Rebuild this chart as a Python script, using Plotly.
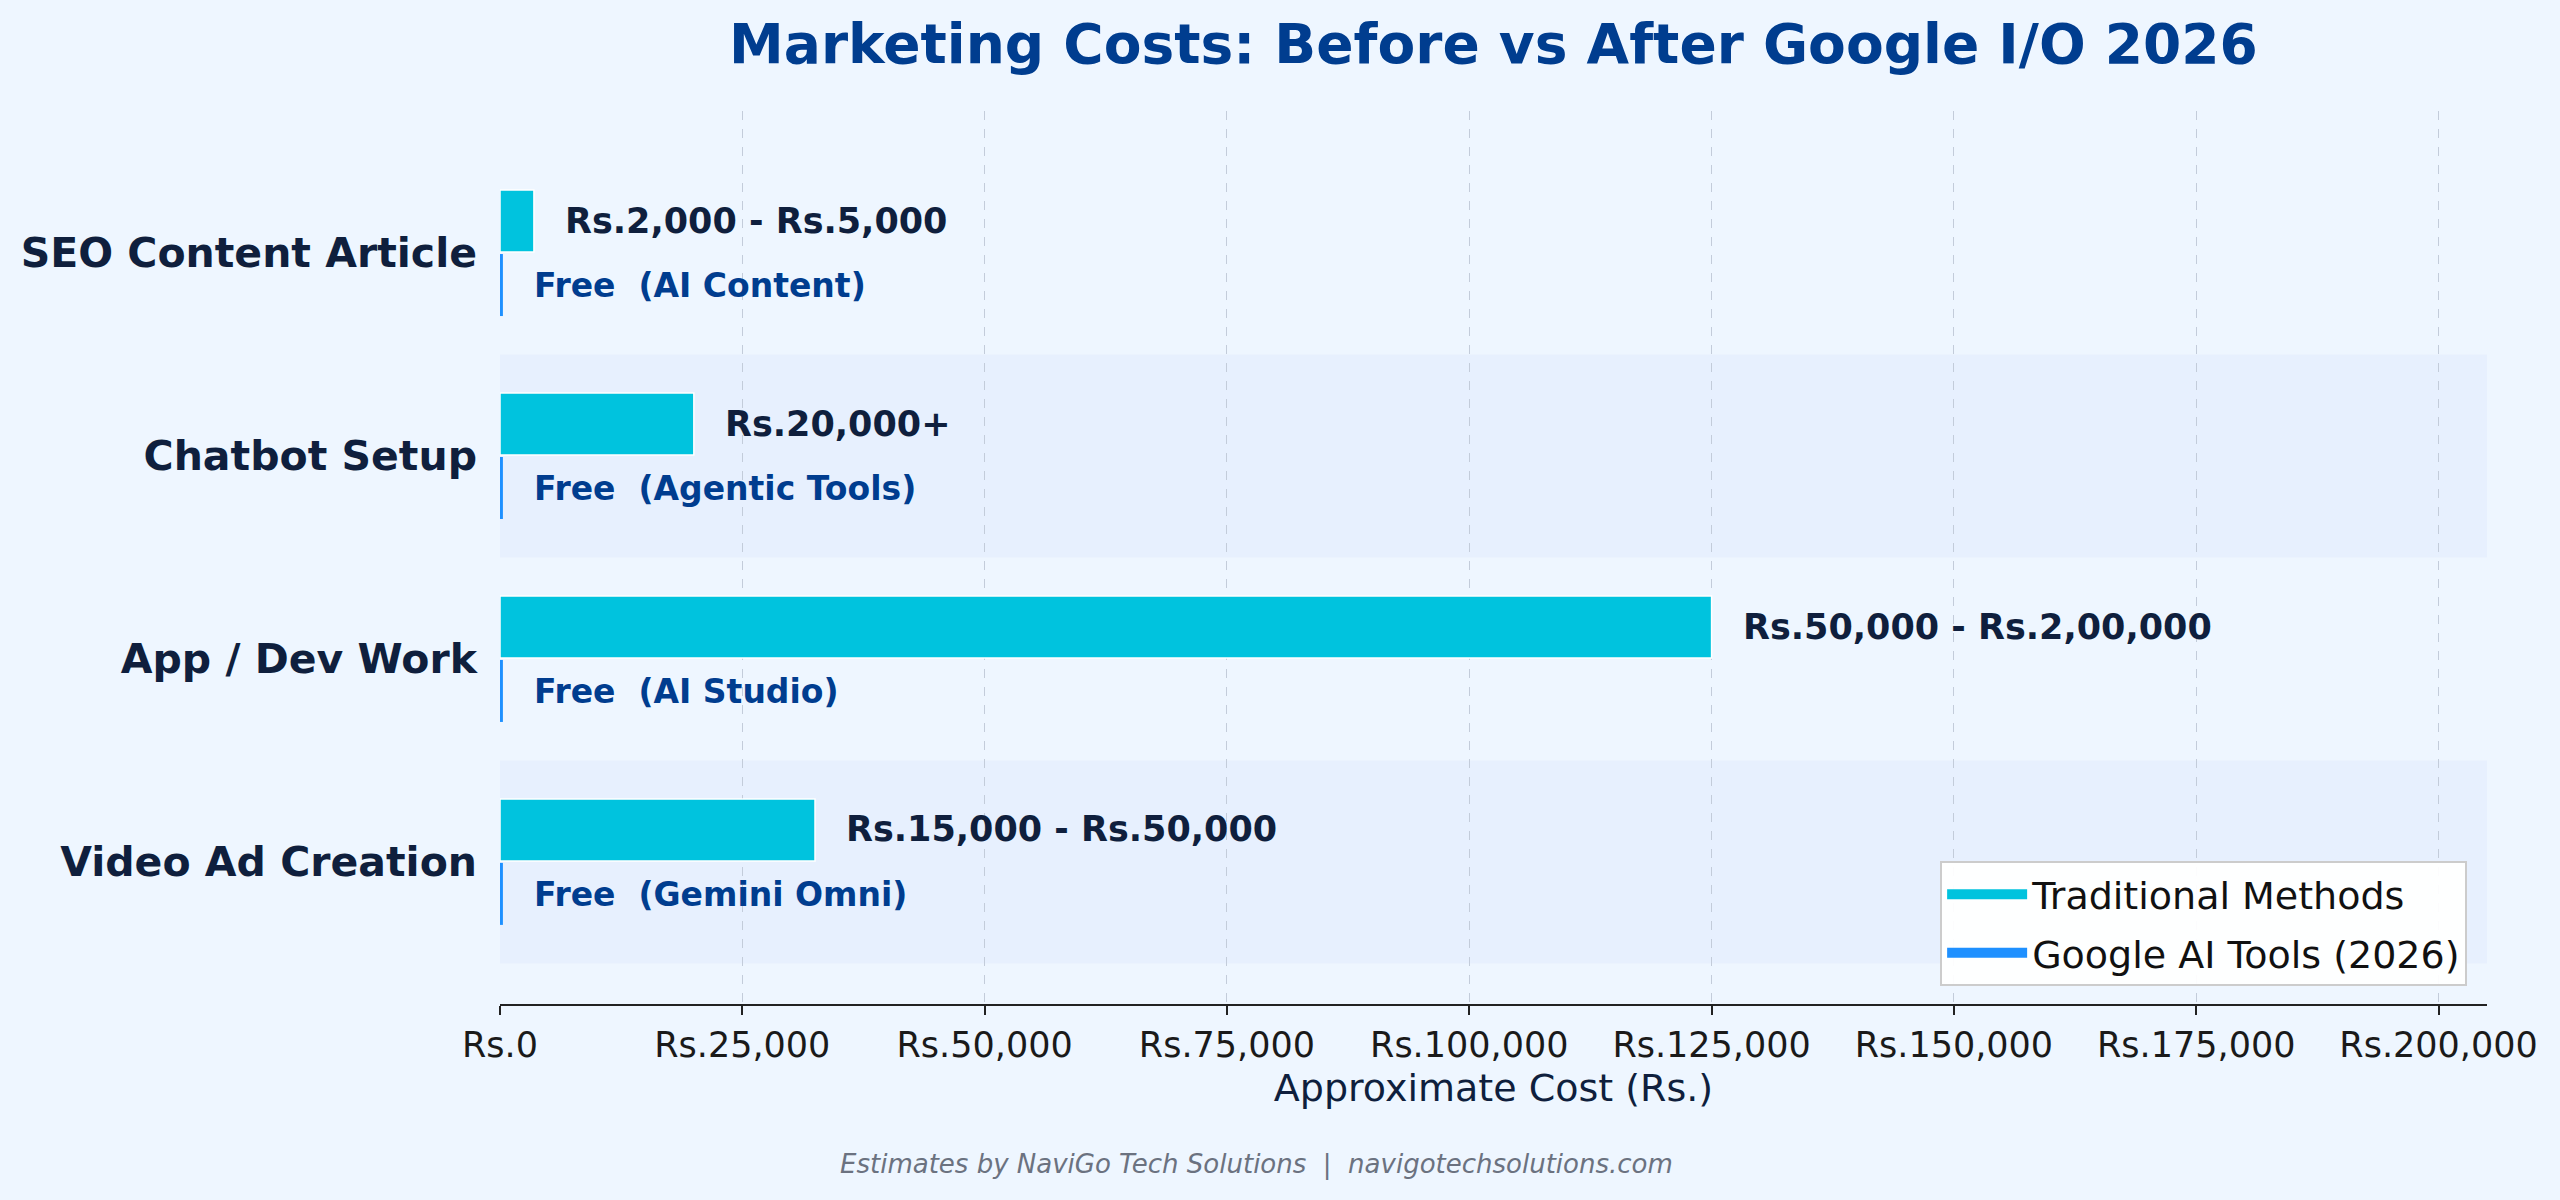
import plotly.graph_objects as go

categories = ["SEO Content Article", "Chatbot Setup", "App / Dev Work", "Video Ad Creation"]
traditional_values = [3500, 20000, 125000, 32500]
ai_values = [300, 300, 300, 300]
traditional_labels = ["Rs.2,000 - Rs.5,000", "Rs.20,000+", "Rs.50,000 - Rs.2,00,000", "Rs.15,000 - Rs.50,000"]
ai_labels = ["Free  (AI Content)", "Free  (Agentic Tools)", "Free  (AI Studio)", "Free  (Gemini Omni)"]
tick_values = [0, 25000, 50000, 75000, 100000, 125000, 150000, 175000, 200000]
tick_labels = ["Rs.0", "Rs.25,000", "Rs.50,000", "Rs.75,000", "Rs.100,000",
               "Rs.125,000", "Rs.150,000", "Rs.175,000", "Rs.200,000"]
series_names = ["Traditional Methods", "Google AI Tools (2026)"]

FONT = "DejaVu Sans"
BG = "#EEF6FF"
BAND = "#E7F0FE"
CYAN = "#00C3DE"
BLUE = "#1E90FF"
NAVY = "#0F1F3D"
TITLE_BLUE = "#003D8F"
X_MAX = 205000
LABEL_OFFSET = 3000
HALF = 0.16

fig = go.Figure()
fig.add_trace(go.Bar(
    y=categories, x=traditional_values, orientation="h", name=series_names[0],
    marker=dict(color=CYAN, line=dict(color="white", width=1.5)), showlegend=False,
))
fig.add_trace(go.Bar(
    y=categories, x=ai_values, orientation="h", name=series_names[1],
    marker=dict(color=BLUE, line=dict(color="white", width=0)), showlegend=False,
))
# legend swatches (wide rectangles, like the reference)
for name, col in zip(series_names, [CYAN, BLUE]):
    fig.add_trace(go.Scatter(x=[None], y=[None], mode="lines", name=name, legendgroup=name,
                             line=dict(color=col, width=24), showlegend=True, hoverinfo="skip"))

# alternating bands
for i in range(len(categories)):
    if i % 2 == 1:
        fig.add_shape(type="rect", xref="x", yref="y", x0=0, x1=X_MAX,
                      y0=i - 0.5, y1=i + 0.5, fillcolor=BAND, line_width=0, layer="below")

for i, cat in enumerate(categories):
    fig.add_annotation(x=traditional_values[i] + LABEL_OFFSET, y=i - HALF, xref="x", yref="y",
                       text=f"<b>{traditional_labels[i]}</b>", showarrow=False, xanchor="left",
                       yanchor="middle", font=dict(family=FONT, size=35, color=NAVY))
    fig.add_annotation(x=ai_values[i] + LABEL_OFFSET, y=i + HALF, xref="x", yref="y",
                       text=f"<b>{ai_labels[i]}</b>", showarrow=False, xanchor="left",
                       yanchor="middle", font=dict(family=FONT, size=33, color=TITLE_BLUE))

fig.add_annotation(xref="paper", yref="paper", x=0.3805, y=-0.18, xanchor="center", yanchor="middle",
                   text="<i>Estimates by NaviGo Tech Solutions  |  navigotechsolutions.com</i>",
                   showarrow=False, font=dict(family=FONT, size=26, color="#6B7280"))

fig.update_layout(
    width=2560, height=1200,
    margin=dict(l=500, r=73, t=111, b=196, autoexpand=False),
    paper_bgcolor=BG, plot_bgcolor=BG,
    barmode="group", bargap=0.37, bargroupgap=0.03,
    title=dict(text="<b>Marketing Costs: Before vs After Google I/O 2026</b>",
               x=0.5, xref="paper", y=1 - 44 / 1200, yanchor="middle", xanchor="center",
               font=dict(family=FONT, size=55, color=TITLE_BLUE)),
    font=dict(family=FONT),
    legend=dict(x=0.99, y=0.02, xanchor="right", yanchor="bottom",
                bgcolor="rgba(255,255,255,0.94)", bordercolor="#CCCCCC", borderwidth=2,
                font=dict(family=FONT, size=38, color="#111111"), traceorder="grouped",
                tracegroupgap=6, itemwidth=80),
    showlegend=True,
)
fig.update_xaxes(
    range=[0, X_MAX], tickvals=tick_values, ticktext=tick_labels,
    showgrid=True, gridcolor="#C3CCDA", griddash="dash", gridwidth=1,
    zeroline=False, showline=True, linecolor="#222222", linewidth=2,
    ticks="outside", ticklen=9, tickwidth=1.5, tickcolor="#222222",
    tickfont=dict(family=FONT, size=35, color="#1A1A1A"),
    title=dict(text="Approximate Cost (Rs.)", standoff=10, font=dict(family=FONT, size=38, color=NAVY)),
)
fig.update_yaxes(
    categoryorder="array", categoryarray=categories,
    range=[len(categories) - 0.3, -0.7], autorange=False,
    showgrid=False, zeroline=False, showline=False, ticks="",
    ticklabelstandoff=22,
    tickfont=dict(family=FONT, size=41, color=NAVY),
    tickvals=categories, ticktext=[f"<b>{c}</b>" for c in categories],
)

fig.write_html("out.html")
